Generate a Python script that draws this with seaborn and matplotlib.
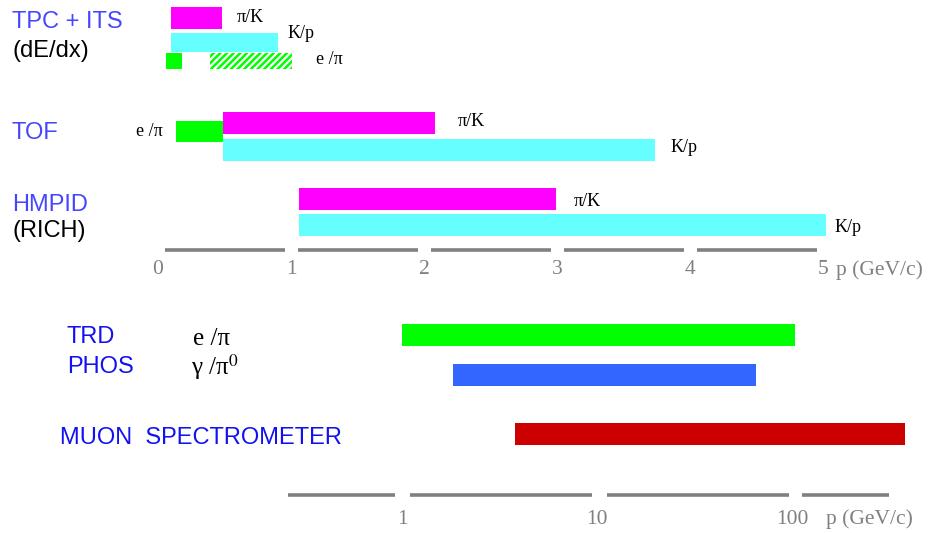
import matplotlib
matplotlib.use("Agg")
import matplotlib.pyplot as plt
import seaborn as sns
import numpy as np

# momentum ranges (GeV/c)
tpc_species = ["π/K", "K/p", "e /π", "e /π"]
tpc_lo = [0.10, 0.10, 0.06, 0.39]
tpc_hi = [0.48, 0.90, 0.18, 1.01]

tof_species = ["e /π", "π/K", "K/p"]
tof_lo = [0.135, 0.49, 0.49]
tof_hi = [0.49, 2.08, 3.74]

hmpid_species = ["π/K", "K/p"]
hmpid_lo = [1.06, 1.06]
hmpid_hi = [2.99, 5.02]

high_detectors = ["TRD", "PHOS", "MUON  SPECTROMETER"]
high_species = ["e /π", r"γ /π$^{\mathrm{0}}$", ""]
high_lo = [1.0, 1.83, 3.8]
high_hi = [103.0, 65.0, 380.0]

lin_ticks = [0, 1, 2, 3, 4, 5]
log_ticks = [1, 10, 100]
log_segments = [(0.26, 0.92), (1.1, 9.4), (11.3, 96.6), (112.0, 316.0)]

MAGENTA, CYAN, GREEN = "#ff00ff", "#66ffff", "#00ff00"
BLUE_BAR, RED = "#3366ff", "#cc0000"
LBL_TOP, LBL_BOT = "#4646ff", "#1212f0"
GRAY = "#808080"

sns.set_theme(style="white")
plt.rcParams["font.family"] = ["Liberation Sans", "DejaVu Sans"]
plt.rcParams["hatch.linewidth"] = 1.8
plt.rcParams["mathtext.fontset"] = "stix"

W, H = 933, 533
fig = plt.figure(figsize=(W / 100, H / 100), dpi=100)

# top panel: linear momentum axis, y in pixel rows
ax = fig.add_axes([0, 0, 1, 1])
ax.set_xlim(-158 / 133, (W - 158) / 133)
ax.set_ylim(H, 0)
ax.axis("off")

serif = ["Liberation Serif", "DejaVu Serif"]
NAME_FS = 17
TICK_FS = 15.5
SP_FS = 13


def bar(a, lo, hi, yc, h, color, hatch=None):
    if hatch:
        a.barh(yc, hi - lo, left=lo, height=h, facecolor="white",
               edgecolor=color, hatch=hatch, linewidth=0)
    else:
        a.barh(yc, hi - lo, left=lo, height=h, color=color, linewidth=0)


def tag(a, x, y, s, dx, size=SP_FS, ha="left"):
    a.annotate(s, (x, y), xytext=(dx, 0), textcoords="offset pixels",
               ha=ha, va="center", fontsize=size, family=serif, color="black")


# TPC + ITS
tpc_y = [18, 42.5, 61, 61]
tpc_h = [22, 19, 16, 16]
tpc_c = [MAGENTA, CYAN, GREEN, GREEN]
for i in range(4):
    bar(ax, tpc_lo[i], tpc_hi[i], tpc_y[i], tpc_h[i], tpc_c[i],
        hatch="/////" if i == 3 else None)
tag(ax, tpc_hi[0], 17, tpc_species[0], 15)
tag(ax, tpc_hi[1], 34, tpc_species[1], 10)
tag(ax, tpc_hi[3], 60, tpc_species[3], 24)

# TOF
tof_y = [131, 123, 150]
tof_c = [GREEN, MAGENTA, CYAN]
for i in range(3):
    bar(ax, tof_lo[i], tof_hi[i], tof_y[i], 21 if i == 0 else 22, tof_c[i])
tag(ax, tof_lo[0], 131, tof_species[0], -13, ha="right")
tag(ax, tof_hi[1], 122, tof_species[1], 23)
tag(ax, tof_hi[2], 148, tof_species[2], 15)

# HMPID
hm_y = [199, 225]
hm_c = [MAGENTA, CYAN]
for i in range(2):
    bar(ax, hmpid_lo[i], hmpid_hi[i], hm_y[i], 22, hm_c[i])
tag(ax, hmpid_hi[0], 201, hmpid_species[0], 18)
tag(ax, hmpid_hi[1], 228, hmpid_species[1], 9)

# linear axis
for t in lin_ticks[:-1]:
    ax.plot([t + 0.053, t + 0.955], [250, 250], color=GRAY, lw=2.6,
            solid_capstyle="butt")
for t in lin_ticks:
    ax.text(t, 270, str(t), ha="center", va="center", fontsize=TICK_FS,
            family=serif, color=GRAY)
ax.annotate("p (GeV/c)", (lin_ticks[-1], 270), xytext=(13, 0),
            textcoords="offset pixels", ha="left", va="center",
            fontsize=TICK_FS, family=serif, color=GRAY)

# detector names (top)
xl = (12 - 158) / 133
ax.text(xl, 22, "TPC + ITS", color=LBL_TOP, fontsize=NAME_FS,
        va="center", ha="left")
ax.text(xl, 51, "(dE/dx)", color="black", fontsize=NAME_FS,
        va="center", ha="left")
ax.text(xl, 133, "TOF", color=LBL_TOP, fontsize=NAME_FS,
        va="center", ha="left")
ax.text(xl, 205, "HMPID", color=LBL_TOP, fontsize=NAME_FS,
        va="center", ha="left")
ax.text(xl, 231, "(RICH)", color="black", fontsize=NAME_FS,
        va="center", ha="left")

# bottom panel: log momentum axis
ax2 = fig.add_axes([0, 0, 1, 1])
ax2.patch.set_alpha(0)
ax2.set_xscale("log")
ax2.set_xlim(10 ** (-402 / 195), 10 ** ((W - 402) / 195))
ax2.set_ylim(H, 0)
ax2.axis("off")

high_y = [335, 375, 433.5]
high_c = [GREEN, BLUE_BAR, RED]
for i in range(3):
    bar(ax2, high_lo[i], high_hi[i], high_y[i], 22, high_c[i])

x0 = 10 ** ((67 - 402) / 195)
ax2.text(x0, 337, high_detectors[0], color=LBL_BOT, fontsize=NAME_FS,
         va="center", ha="left")
ax2.text(x0, 367, high_detectors[1], color=LBL_BOT, fontsize=NAME_FS,
         va="center", ha="left")
ax2.text(10 ** ((60 - 402) / 195), 438, high_detectors[2], color=LBL_BOT,
         fontsize=NAME_FS, va="center", ha="left")
ax2.text(10 ** ((193 - 402) / 195), 339, high_species[0], fontsize=18,
         family=serif, va="center", ha="left", color="black")
ax2.text(10 ** ((191 - 402) / 195), 367, high_species[1], fontsize=18,
         family=serif, va="center", ha="left", color="black")

for lo, hi in log_segments:
    ax2.plot([lo, hi], [495, 495], color=GRAY, lw=2.6, solid_capstyle="butt")
for t in log_ticks:
    ax2.text(t, 519, str(t), ha="center", va="center", fontsize=TICK_FS,
             family=serif, color=GRAY)
ax2.annotate("p (GeV/c)", (log_ticks[-1], 519), xytext=(34, 0),
             textcoords="offset pixels", ha="left", va="center",
             fontsize=TICK_FS, family=serif, color=GRAY)

fig.savefig("out.png", dpi=100)
